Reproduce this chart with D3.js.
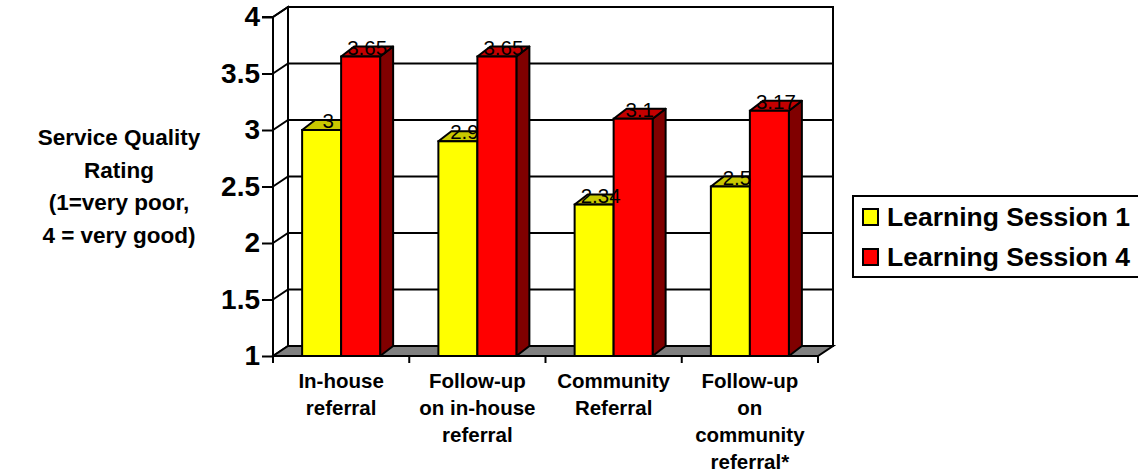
<!DOCTYPE html>
<html>
<head>
<meta charset="utf-8">
<script src="https://cdn.jsdelivr.net/npm/d3@7"></script>
<style>
  html, body { margin: 0; padding: 0; background: #fff; }
  svg { display: block; }
  text { font-family: "Liberation Sans", Arial, Helvetica, sans-serif; fill: #000; }
</style>
</head>
<body>
<svg id="chart" width="1138" height="474"></svg>
<script>
// Service quality ratings by referral step, two learning sessions
const categories = [
  ["In-house", "referral"],
  ["Follow-up", "on in-house", "referral"],
  ["Community", "Referral"],
  ["Follow-up", "on", "community", "referral*"]
];
const session1 = [3, 2.9, 2.34, 2.5];
const session4 = [3.65, 3.65, 3.1, 3.17];
const seriesNames = ["Learning Session 1", "Learning Session 4"];
const yTicks = [1, 1.5, 2, 2.5, 3, 3.5, 4];
const yTitle = ["Service Quality", "Rating", "(1=very poor,", "4 = very good)"];

const svg = d3.select("#chart");

// plot frame (front plane) and 3-D depth offsets
const plotLeft = 273, plotRight = 818, plotTop = 17, plotBottom = 356;
const depth = { dx: 15, dy: -10 };     // wall / floor depth
const barDepth = { dx: 13, dy: -10 };  // column depth

const y = d3.scaleLinear().domain([1, 4]).range([plotBottom, plotTop]);
const x = d3.scaleBand().domain(d3.range(categories.length)).range([plotLeft, plotRight]).paddingInner(0).paddingOuter(0);
const groupWidth = 78;
const xs = d3.scaleBand().domain([0, 1]).range([0, groupWidth]);

const series = [
  { name: seriesNames[0], values: session1, front: "#FFFF00", topFill: "#C8C800", side: "#9A9A00" },
  { name: seriesNames[1], values: session4, front: "#FF0000", topFill: "#C40000", side: "#800000" }
];

const g = svg.append("g");
const line = d3.line();

// back wall
g.append("rect")
  .attr("x", plotLeft + depth.dx).attr("y", plotTop + depth.dy)
  .attr("width", plotRight - plotLeft).attr("height", plotBottom - plotTop)
  .attr("fill", "#fff").attr("stroke", "#000").attr("stroke-width", 2);

// left side wall
g.append("path")
  .attr("d", line([[plotLeft, plotTop], [plotLeft + depth.dx, plotTop + depth.dy], [plotLeft + depth.dx, plotBottom + depth.dy], [plotLeft, plotBottom]]) + "Z")
  .attr("fill", "#fff").attr("stroke", "#000").attr("stroke-width", 2);

// gridlines on side wall and back wall
yTicks.filter(v => v > 1).forEach(v => {
  const yy = y(v);
  g.append("path")
    .attr("d", line([[plotLeft, yy], [plotLeft + depth.dx, yy + depth.dy], [plotRight + depth.dx, yy + depth.dy]]))
    .attr("fill", "none").attr("stroke", "#000").attr("stroke-width", 2);
});

// floor
g.append("path")
  .attr("d", line([[plotLeft, plotBottom], [plotLeft + depth.dx, plotBottom + depth.dy], [plotRight + depth.dx, plotBottom + depth.dy], [plotRight, plotBottom]]) + "Z")
  .attr("fill", "#808080").attr("stroke", "#000").attr("stroke-width", 2);

// columns
categories.forEach((c, i) => {
  const x0 = x(i) + (x.bandwidth() - groupWidth) / 2;
  series.forEach((s, j) => {
    const bx = x0 + xs(j), bw = xs.bandwidth();
    const yt = y(s.values[i]), yb = y(1);
    const bg = g.append("g");
    // side face
    bg.append("path")
      .attr("d", line([[bx + bw, yt], [bx + bw + barDepth.dx, yt + barDepth.dy], [bx + bw + barDepth.dx, yb + barDepth.dy], [bx + bw, yb]]) + "Z")
      .attr("fill", s.side).attr("stroke", "#000").attr("stroke-width", 2).attr("stroke-linejoin", "round");
    // top face
    bg.append("path")
      .attr("d", line([[bx, yt], [bx + barDepth.dx, yt + barDepth.dy], [bx + bw + barDepth.dx, yt + barDepth.dy], [bx + bw, yt]]) + "Z")
      .attr("fill", s.topFill).attr("stroke", "#000").attr("stroke-width", 2).attr("stroke-linejoin", "round");
    // front face
    bg.append("rect")
      .attr("x", bx).attr("y", yt).attr("width", bw).attr("height", yb - yt)
      .attr("fill", s.front).attr("stroke", "#000").attr("stroke-width", 2);
  });
});

// value labels
categories.forEach((c, i) => {
  const x0 = x(i) + (x.bandwidth() - groupWidth) / 2;
  series.forEach((s, j) => {
    const cx = x0 + xs(j) + xs.bandwidth() / 2 + barDepth.dx / 2;
    g.append("text")
      .attr("x", cx).attr("y", y(s.values[i]) - 2)
      .attr("text-anchor", "middle")
      .attr("font-size", 20.5)
      .text(String(s.values[i]));
  });
});

// value axis
const yAxis = d3.axisLeft(y).tickValues(yTicks).tickSize(11).tickPadding(2).tickFormat(d => String(d));
const ya = svg.append("g").attr("transform", `translate(${plotLeft},0)`).call(yAxis);
ya.select(".domain").attr("stroke", "#000").attr("stroke-width", 2).attr("d", `M-11,${plotTop}H0V${plotBottom + 7}`);
ya.selectAll(".tick line").attr("stroke", "#000").attr("stroke-width", 2);
ya.selectAll(".tick text")
  .attr("font-size", 28).attr("font-weight", "bold")
  .attr("font-family", '"Liberation Sans", Arial, sans-serif').attr("fill", "#000");

// category axis: baseline, boundary ticks, labels
svg.append("line")
  .attr("x1", plotLeft).attr("x2", plotRight).attr("y1", plotBottom).attr("y2", plotBottom)
  .attr("stroke", "#000").attr("stroke-width", 2);
d3.range(categories.length + 1).forEach(i => {
  const xx = i < categories.length ? x(i) : x(i - 1) + x.step();
  svg.append("line")
    .attr("x1", xx).attr("x2", xx).attr("y1", plotBottom).attr("y2", plotBottom + 7)
    .attr("stroke", "#000").attr("stroke-width", 2);
});
categories.forEach((lines, i) => {
  const t = svg.append("text")
    .attr("text-anchor", "middle")
    .attr("font-size", 20.5).attr("font-weight", "bold");
  lines.forEach((ln, k) => {
    t.append("tspan").attr("x", x(i) + x.bandwidth() / 2).attr("y", 388 + k * 27).text(ln);
  });
});

// value axis title
const tt = svg.append("text").attr("text-anchor", "middle").attr("font-size", 22.5).attr("font-weight", "bold");
yTitle.forEach((ln, k) => {
  tt.append("tspan").attr("x", 119).attr("y", 145 + k * 32.5).text(ln);
});

// legend
const lg = svg.append("g");
lg.append("rect")
  .attr("x", 853).attr("y", 196).attr("width", 300).attr("height", 81)
  .attr("fill", "#fff").attr("stroke", "#000").attr("stroke-width", 2);
series.forEach((s, j) => {
  const yy = 209 + j * 40;
  lg.append("rect").attr("x", 863).attr("y", yy).attr("width", 15).attr("height", 16)
    .attr("fill", s.front).attr("stroke", "#000").attr("stroke-width", 2);
  lg.append("text").attr("x", 887).attr("y", yy + 17)
    .attr("font-size", 26.5).attr("font-weight", "bold").text(s.name);
});
</script>
</body>
</html>
